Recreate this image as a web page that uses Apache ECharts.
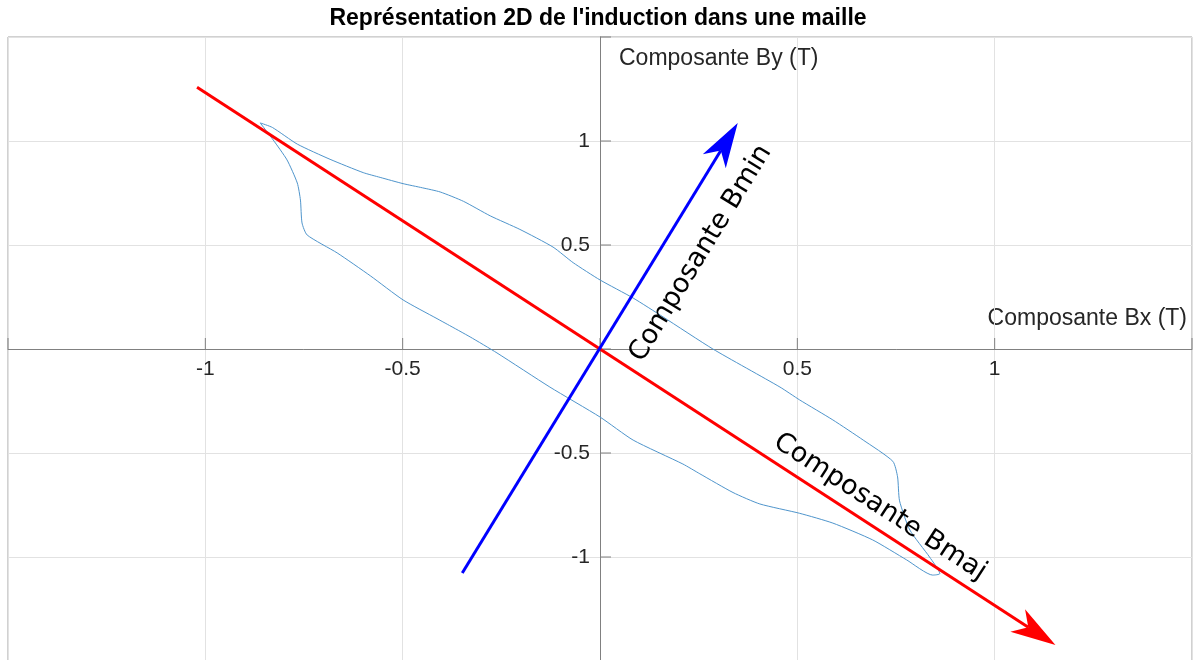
<!DOCTYPE html>
<html>
<head>
<meta charset="utf-8">
<script src="https://cdn.jsdelivr.net/npm/echarts@6/dist/echarts.min.js"></script>
<style>
  html, body { margin: 0; padding: 0; background: #ffffff; }
  #chart { width: 1196px; height: 660px; }
</style>
</head>
<body>
<div id="chart"></div>
<script>
// Texts
const titleText = "Représentation 2D de l'induction dans une maille";
const xAxisName = 'Composante Bx (T)';
const yAxisName = 'Composante By (T)';
const tickValues = [-1.5, -1, -0.5, 0, 0.5, 1, 1.5];
const xTickLabels = ['-1', '-0.5', '0.5', '1'];
const yTickLabels = ['-1', '-0.5', '0.5', '1'];

// Locus of the flux density vector (Bx, By) over one period, in tesla
const locusBx = [
  -0.861, -0.830, -0.767, -0.684, -0.600, -0.557, -0.499, -0.450, -0.405, -0.346,
  -0.278, -0.203, -0.119, -0.068, 0.000, 0.084, 0.160, 0.286, 0.456, 0.506,
  0.590, 0.667, 0.742, 0.754, 0.759, 0.785, 0.835, 0.861,
  0.843, 0.777, 0.691, 0.590, 0.506, 0.405, 0.337, 0.253, 0.210, 0.084,
  0.000, -0.127, -0.261, -0.329, -0.387, -0.413, -0.499, -0.582, -0.666,
  -0.742, -0.755, -0.759, -0.767, -0.793, -0.828, -0.861
];
const locusBy = [
  1.087, 1.065, 0.985, 0.912, 0.848, 0.825, 0.795, 0.775, 0.755, 0.710,
  0.640, 0.575, 0.490, 0.415, 0.332, 0.245, 0.154, 0.000, -0.183, -0.245,
  -0.341, -0.438, -0.540, -0.615, -0.730, -0.870, -1.000, -1.080,
  -1.087, -1.014, -0.918, -0.837, -0.790, -0.745, -0.690, -0.600, -0.553, -0.438,
  -0.327, -0.183, -0.019, 0.058, 0.119, 0.146, 0.236, 0.352, 0.462,
  0.548, 0.606, 0.716, 0.798, 0.909, 1.005, 1.087
];

// Principal directions of the locus: [start, end] in (Bx, By)
const majorAxis = [[-1.021, 1.258], [1.154, -1.423]];
const minorAxis = [[-0.349, -1.077], [0.349, 1.087]];
const majorLabel = 'Composante Bmaj';
const minorLabel = 'Composante Bmin';

const axisFont = '"Liberation Sans", Arial, Helvetica, sans-serif';
const arrowFont = '27px "DejaVu Sans", sans-serif';
const axisColor = '#808080';
const labelColor = '#262626';
const tickLen = 11;

// Arrow along a principal direction, with its caption laid along the shaft.
// labelAlong: distance (px) from the origin along the arrow; labelUp: offset (px) toward the text's top.
function arrowSeries(seg, color, caption, labelAlong, labelUp) {
  return {
    type: 'custom',
    coordinateSystem: 'cartesian2d',
    silent: true,
    clip: false,
    z: 5,
    data: [[seg[0][0], seg[0][1], seg[1][0], seg[1][1]]],
    renderItem: function (params, api) {
      const a = api.coord([api.value(0), api.value(1)]);
      const b = api.coord([api.value(2), api.value(3)]);
      const o = api.coord([0, 0]);
      const dx = b[0] - a[0], dy = b[1] - a[1];
      const len = Math.hypot(dx, dy);
      const ux = dx / len, uy = dy / len;
      const nx = -uy, ny = ux;
      const L = 45, W = 13.5, N = 0.72 * L;
      const back = [b[0] - ux * L, b[1] - uy * L];
      const notch = [b[0] - ux * N, b[1] - uy * N];
      const theta = Math.atan2(-uy, ux);
      const upX = -Math.sin(theta), upY = -Math.cos(theta);
      const tx = o[0] + ux * labelAlong + upX * labelUp;
      const ty = o[1] + uy * labelAlong + upY * labelUp;
      return {
        type: 'group',
        children: [
          {
            type: 'line',
            shape: { x1: a[0], y1: a[1], x2: notch[0], y2: notch[1] },
            style: { stroke: color, lineWidth: 3 }
          },
          {
            type: 'polygon',
            shape: {
              points: [
                b,
                [back[0] + nx * W, back[1] + ny * W],
                notch,
                [back[0] - nx * W, back[1] - ny * W]
              ]
            },
            style: { fill: color }
          },
          {
            type: 'text',
            x: tx,
            y: ty,
            rotation: theta,
            style: {
              text: caption,
              font: arrowFont,
              fill: '#000000',
              align: 'left',
              verticalAlign: 'middle',
              textAlign: 'left',
              textVerticalAlign: 'middle'
            }
          }
        ]
      };
    }
  };
}

// Ticks and tick labels of the axes crossing at the origin
function originAxisSeries(dim) {
  const labels = dim === 'x' ? xTickLabels : yTickLabels;
  return {
    type: 'custom',
    coordinateSystem: 'cartesian2d',
    silent: true,
    clip: false,
    z: 4,
    data: tickValues.map(function (v) { return [v]; }),
    renderItem: function (params, api) {
      const v = api.value(0);
      const p = dim === 'x' ? api.coord([v, 0]) : api.coord([0, v]);
      const s = String(v);
      const children = [];
      if (dim === 'x') {
        children.push({ type: 'line', shape: { x1: p[0], y1: p[1], x2: p[0], y2: p[1] - tickLen },
                        style: { stroke: axisColor, lineWidth: 1 } });
        if (labels.indexOf(s) >= 0) {
          children.push({ type: 'text', x: p[0], y: p[1] + 10,
            style: { text: s, font: '21px ' + axisFont, fill: labelColor,
                     align: 'center', verticalAlign: 'top', textAlign: 'center', textVerticalAlign: 'top' } });
        }
      } else {
        children.push({ type: 'line', shape: { x1: p[0], y1: p[1], x2: p[0] + tickLen, y2: p[1] },
                        style: { stroke: axisColor, lineWidth: 1 } });
        if (labels.indexOf(s) >= 0) {
          children.push({ type: 'text', x: p[0] - 10, y: p[1],
            style: { text: s, font: '21px ' + axisFont, fill: labelColor,
                     align: 'right', verticalAlign: 'middle', textAlign: 'right', textVerticalAlign: 'middle' } });
        }
      }
      return { type: 'group', children: children };
    }
  };
}

const chart = echarts.init(document.getElementById('chart'), null, { renderer: 'canvas' });

const locus = locusBx.map(function (x, i) { return [x, locusBy[i]]; });

const axisCommon = {
  type: 'value',
  min: -1.5,
  max: 1.5,
  interval: 0.5,
  axisLine: { onZero: true, lineStyle: { color: axisColor, width: 1 } },
  axisTick: { show: false },
  axisLabel: { show: false },
  splitLine: { show: true, lineStyle: { color: '#e2e2e2', width: 1 } }
};

chart.setOption({
  animation: false,
  backgroundColor: '#ffffff',
  title: {
    text: titleText,
    left: 'center',
    top: 7,
    padding: 0,
    textStyle: { fontFamily: axisFont, fontSize: 23, fontWeight: 'bold', color: '#000000' }
  },
  grid: {
    left: 8,
    top: 37,
    width: 1184,
    height: 624,
    show: true,
    borderColor: '#a3a3a3',
    borderWidth: 1,
    containLabel: false,
    outerBoundsMode: 'none'
  },
  xAxis: Object.assign({}, axisCommon),
  yAxis: Object.assign({}, axisCommon),
  graphic: [
    {
      type: 'text', x: 619, y: 59,
      style: { text: yAxisName, font: '23px ' + axisFont, fill: labelColor,
               align: 'left', verticalAlign: 'middle', textAlign: 'left', textVerticalAlign: 'middle' }
    },
    {
      type: 'text', x: 1187, y: 319,
      style: { text: xAxisName, font: '23px ' + axisFont, fill: labelColor,
               align: 'right', verticalAlign: 'middle', textAlign: 'right', textVerticalAlign: 'middle' }
    }
  ],
  series: [
    originAxisSeries('x'),
    originAxisSeries('y'),
    {
      type: 'line',
      data: locus,
      showSymbol: false,
      smooth: 0.2,
      z: 3,
      lineStyle: { color: '#4f95cc', width: 1 }
    },
    arrowSeries(majorAxis, '#ff0000', majorLabel, 197, 20),
    arrowSeries(minorAxis, '#0000ff', minorLabel, 10, -36)
  ]
});
</script>
</body>
</html>
